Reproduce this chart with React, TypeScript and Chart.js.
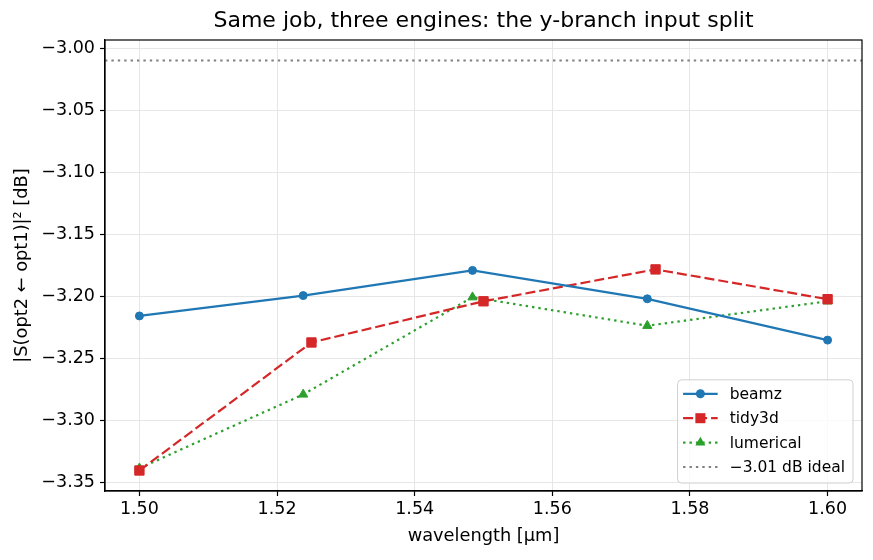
import { useEffect, useRef } from "react";
import { Chart, registerables } from "chart.js";

Chart.register(...registerables);

// values
const beamzWavelength = [1.5, 1.5238, 1.5484, 1.5738, 1.6];
const beamzDb = [-3.2159, -3.1995, -3.1792, -3.2021, -3.2354];
const tidy3dWavelength = [1.5, 1.525, 1.55, 1.575, 1.6];
const tidy3dDb = [-3.3405, -3.2373, -3.2041, -3.1784, -3.2024];
const lumericalWavelength = [1.5, 1.5238, 1.5484, 1.5738, 1.6];
const lumericalDb = [-3.3387, -3.2792, -3.2008, -3.2238, -3.2041];
const idealDb = -3.01;

const xTicks = [1.5, 1.52, 1.54, 1.56, 1.58, 1.6];
const yTicks = [-3.35, -3.3, -3.25, -3.2, -3.15, -3.1, -3.05, -3.0];

const FONT = "DejaVu Sans";

// matplotlib style 5% margins
const allX = [...beamzWavelength, ...tidy3dWavelength, ...lumericalWavelength];
const allY = [...beamzDb, ...tidy3dDb, ...lumericalDb, idealDb];
const xPad = (Math.max(...allX) - Math.min(...allX)) * 0.05;
const yPad = (Math.max(...allY) - Math.min(...allY)) * 0.05;
const xMin = Math.min(...allX) - xPad;
const xMax = Math.max(...allX) + xPad;
const yMin = Math.min(...allY) - yPad;
const yMax = Math.max(...allY) + yPad;

const zip = (xs: number[], ys: number[]) => xs.map((x, i) => ({ x, y: ys[i] }));

const frame = {
  id: "frame",
  afterDatasetsDraw(chart: any) {
    const { ctx, chartArea: a } = chart;
    ctx.save();
    ctx.strokeStyle = "black";
    ctx.lineWidth = 1.2;
    ctx.strokeRect(a.left, a.top, a.right - a.left, a.bottom - a.top);
    ctx.restore();
  },
};

function marker(ctx: CanvasRenderingContext2D, style: string, x: number, y: number, r: number) {
  ctx.beginPath();
  if (style === "circle") {
    ctx.arc(x, y, r, 0, Math.PI * 2);
  } else if (style === "rect") {
    const s = r * Math.SQRT1_2;
    ctx.rect(x - s, y - s, 2 * s, 2 * s);
  } else if (style === "triangle") {
    for (let k = 0; k < 3; k++) {
      const ang = (k * 2 * Math.PI) / 3;
      const px = x + Math.sin(ang) * r;
      const py = y - Math.cos(ang) * r;
      if (k === 0) ctx.moveTo(px, py);
      else ctx.lineTo(px, py);
    }
    ctx.closePath();
  } else {
    return;
  }
  ctx.fill();
}

const boxLegend = {
  id: "boxLegend",
  afterDraw(chart: any) {
    const { ctx, chartArea: a } = chart;
    const ds = chart.data.datasets;
    ctx.save();
    ctx.font = `15.5px "${FONT}"`;
    const textW = Math.max(...ds.map((d: any) => ctx.measureText(d.label).width));
    const rowH = 24.4;
    const w = 5.5 + 34.6 + 12 + textW + 8;
    const h = 14 + rowH * (ds.length - 1) + 16;
    const right = a.right - 9;
    const bottom = a.bottom - 8;
    const left = right - w;
    const top = bottom - h;

    ctx.beginPath();
    ctx.roundRect(left, top, w, h, 4);
    ctx.fillStyle = "rgba(255,255,255,0.8)";
    ctx.fill();
    ctx.strokeStyle = "#d0d0d0";
    ctx.lineWidth = 1;
    ctx.stroke();

    ds.forEach((d: any, i: number) => {
      const cy = top + 14 + i * rowH;
      const x0 = left + 5.5;
      const x1 = x0 + 34.6;
      ctx.beginPath();
      ctx.setLineDash(d.borderDash || []);
      ctx.strokeStyle = d.borderColor;
      ctx.lineWidth = d.borderWidth;
      ctx.moveTo(x0, cy);
      ctx.lineTo(x1, cy);
      ctx.stroke();
      ctx.setLineDash([]);
      ctx.fillStyle = d.borderColor;
      marker(ctx, d.pointStyle, (x0 + x1) / 2, cy, d.pointRadius + 0.5);
      ctx.fillStyle = "black";
      ctx.textBaseline = "middle";
      ctx.textAlign = "left";
      ctx.fillText(d.label, x1 + 12, cy + 1);
    });
    ctx.restore();
  },
};

export default function App() {
  const ref = useRef<HTMLCanvasElement>(null);

  useEffect(() => {
    if (!ref.current) return;
    Chart.defaults.font.family = FONT;
    Chart.defaults.color = "black";

    const chart = new Chart(ref.current, {
      type: "line",
      data: {
        datasets: [
          {
            label: "beamz",
            data: zip(beamzWavelength, beamzDb),
            borderColor: "#1f77b4",
            backgroundColor: "#1f77b4",
            borderWidth: 2.2,
            pointStyle: "circle",
            pointRadius: 4,
            pointBorderWidth: 1,
            fill: false,
          },
          {
            label: "tidy3d",
            data: zip(tidy3dWavelength, tidy3dDb),
            borderColor: "#d62728",
            backgroundColor: "#d62728",
            borderWidth: 2.2,
            borderDash: [10, 4],
            pointStyle: "rect",
            pointRadius: 6.6,
            pointBorderWidth: 1,
            fill: false,
          },
          {
            label: "lumerical",
            data: zip(lumericalWavelength, lumericalDb),
            borderColor: "#2ca02c",
            backgroundColor: "#2ca02c",
            borderWidth: 2.2,
            borderDash: [2.4, 4],
            pointStyle: "triangle",
            pointRadius: 5.3,
            pointBorderWidth: 1,
            fill: false,
          },
          {
            label: "\u22123.01 dB ideal",
            data: [
              { x: xMin, y: idealDb },
              { x: xMax, y: idealDb },
            ],
            borderColor: "#808080",
            backgroundColor: "#808080",
            borderWidth: 2.2,
            borderDash: [2.4, 4],
            pointStyle: "line",
            pointRadius: 0,
            fill: false,
          },
        ],
      },
      options: {
        responsive: false,
        animation: false,
        devicePixelRatio: 1,
        layout: { padding: { left: 0, right: 11, top: 0, bottom: 0 } },
        plugins: {
          legend: { display: false },
          tooltip: { enabled: false },
          title: {
            display: true,
            fullSize: false,
            text: "Same job, three engines: the y-branch input split",
            font: { size: 22, weight: "normal" },
            color: "black",
            padding: { top: 8, bottom: 5.6 },
          },
        },
        scales: {
          x: {
            type: "linear",
            min: xMin,
            max: xMax,
            afterFit: (s: any) => {
              s.height = 69;
            },
            afterBuildTicks: (s: any) => {
              s.ticks = xTicks.map((value) => ({ value }));
            },
            ticks: {
              font: { size: 17.5 },
              padding: 3,
              maxRotation: 0,
              autoSkip: false,
              callback: (v: any) => Number(v).toFixed(2),
            },
            grid: {
              color: "#e6e6e6",
              lineWidth: 1,
              tickColor: "black",
              tickLength: 5,
              tickWidth: 1.2,
            },
            border: { display: true, color: "black", width: 1.2 },
            title: {
              display: true,
              text: "wavelength [\u00b5m]",
              font: { size: 17.8 },
              padding: { top: 4, bottom: 12.5 },
            },
          },
          y: {
            type: "linear",
            min: yMin,
            max: yMax,
            afterFit: (s: any) => {
              s.width = 105;
            },
            afterBuildTicks: (s: any) => {
              s.ticks = yTicks.map((value) => ({ value }));
            },
            ticks: {
              font: { size: 17.5 },
              padding: 5,
              autoSkip: false,
              callback: (v: any) => {
                const n = Number(v);
                return (n < 0 ? "\u2212" : "") + Math.abs(n).toFixed(2);
              },
            },
            grid: {
              color: "#e6e6e6",
              lineWidth: 1,
              tickColor: "black",
              tickLength: 5,
              tickWidth: 1.2,
            },
            border: { display: true, color: "black", width: 1.2 },
            title: {
              display: true,
              text: "|S(opt2 \u2190 opt1)|\u00b2 [dB]",
              font: { size: 17.8 },
              padding: { top: 11.5, bottom: 4 },
            },
          },
        },
      },
      plugins: [frame, boxLegend],
    });

    return () => {
      chart.destroy();
    };
  }, []);

  return (
    <div style={{ position: "absolute", left: 0, top: 0, width: 873, height: 560, background: "white" }}>
      <canvas ref={ref} width={873} height={560} />
    </div>
  );
}
